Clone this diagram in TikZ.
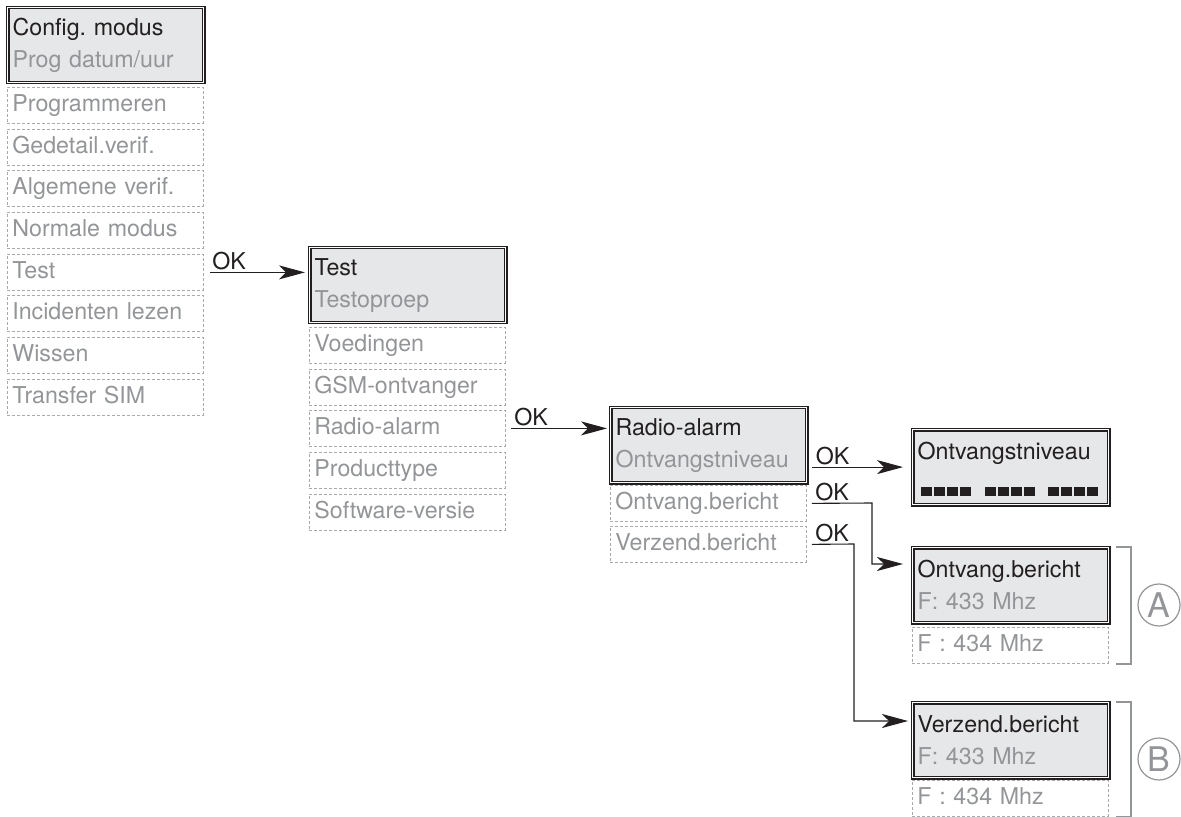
\documentclass[tikz,border=0pt]{standalone}
\usepackage{fontspec}
\setmainfont{TeX Gyre Heros}
\usetikzlibrary{arrows.meta}
\definecolor{lcdgray}{RGB}{230,231,232}
\definecolor{txtgray}{RGB}{147,149,152}
\definecolor{ink}{RGB}{35,31,32}
\frenchspacing

\begin{document}
\begin{tikzpicture}[x=0.5pt,y=-0.5pt,
    head/.style={anchor=north west,draw=ink,line width=0.6pt,double=white,double distance=0.7pt,fill=lcdgray,text=ink,minimum width=98pt,minimum height=37.5pt,text width=93pt,inner xsep=2.5pt,align=left,font=\fontsize{11.6}{16}\selectfont},
    item/.style={anchor=north west,draw=txtgray!80,line width=0.4pt,dash pattern=on 1.5pt off 1pt,text=txtgray,minimum width=98pt,minimum height=18pt,text width=93pt,inner xsep=2.5pt,text height=8.3pt,text depth=2.2pt,align=left,font=\fontsize{11.6}{16}\selectfont},
    arr/.style={draw=ink,line width=0.55pt,-{Stealth[length=13pt,width=7pt,inset=3.5pt]}},
    ok/.style={anchor=south west,inner sep=1pt,xshift=3pt,text=ink,font=\fontsize{11.6}{13}\selectfont},
    brk/.style={draw=txtgray,line width=1pt},
    circ/.style={circle,draw=txtgray,line width=0.6pt,text=txtgray,minimum size=21pt,inner sep=0pt,font=\fontsize{17}{20}\selectfont},
    bars/.style={draw=ink,line width=4.5pt,dash pattern=on 5.5pt off 1pt}]
    \useasboundingbox (0,0) rectangle (1181,817);

    % config menu
    \node[head] (C) at (7,7) {Config. modus\\\textcolor{txtgray}{Prog datum/uur}};
    \node[item] (C1) at (7,87) {Programmeren};
    \node[item] (C2) at (7,129) {Gedetail.verif.};
    \node[item] (C3) at (7,170) {Algemene verif.};
    \node[item] (C4) at (7,212) {Normale modus};
    \node[item] (C5) at (7,254) {Test};
    \node[item] (C6) at (7,295) {Incidenten lezen};
    \node[item] (C7) at (7,337) {Wissen};
    \node[item] (C8) at (7,379) {Transfer SIM};

    % test menu
    \node[head] (T) at (309,247) {Test\\\textcolor{txtgray}{Testoproep}};
    \node[item] (T1) at (309,327) {Voedingen};
    \node[item] (T2) at (309,369) {GSM-ontvanger};
    \node[item] (T3) at (309,410) {Radio-alarm};
    \node[item] (T4) at (309,452) {Producttype};
    \node[item] (T5) at (309,494) {Software-versie};

    % radio menu
    \node[head] (R) at (610,407) {Radio-alarm\\\textcolor{txtgray}{Ontvangstniveau}};
    \node[item] (R1) at (610,485) {Ontvang.bericht};
    \node[item] (R2) at (610,526) {Verzend.bericht};

    % screens
    \node[head] (N) at (912,429) {Ontvangstniveau\\\mbox{}};
    \node[head] (O) at (912,547) {Ontvang.bericht\\\textcolor{txtgray}{F: 433 Mhz}};
    \node[item] (O1) at (912,627) {F : 434 Mhz};
    \node[head] (V) at (912,702) {Verzend.bericht\\\textcolor{txtgray}{F: 433 Mhz}};
    \node[item] (V1) at (912,780) {F : 434 Mhz};

    \draw[bars] ([xshift=4.5pt,yshift=7pt]N.south west) -- ++(50,0);
    \draw[bars] ([xshift=36.5pt,yshift=7pt]N.south west) -- ++(50,0);
    \draw[bars] ([xshift=68pt,yshift=7pt]N.south west) -- ++(50,0);

    \coordinate (B1) at (872,503);
    \coordinate (B2) at (872,564);
    \coordinate (B3) at (854,544);
    \coordinate (B4) at (854,721);

    \draw[arr,shorten <=3pt,shorten >=2pt] (C5.east) -- node[ok,pos=0] {OK} (C5.east -| T.west);
    \draw[arr,shorten <=2.5pt,shorten >=1.5pt] (T3.east) -- node[ok,pos=0] {OK} (T3.east -| R.west);
    \draw[arr,shorten <=2.5pt,shorten >=4.5pt] (R.east |- N.west) -- node[ok,pos=0] {OK} (N.west);
    \draw[arr,shorten <=2.5pt,shorten >=4.5pt] (R1.east) -- node[ok,pos=0] {OK} (B1) -- (B2) -- (B2 -| O.west);
    \draw[arr,shorten <=2.5pt,shorten >=2pt] (R2.east) -- node[ok,pos=0] {OK} (B3) -- (B4) -- (B4 -| V.west);

    % groups
    \draw[brk] ([xshift=3.5pt]O.north east) -| ([xshift=11pt]O1.south east) -- ([xshift=3.5pt]O1.south east);
    \node[circ] (A) at (1159,605) {A};
    \draw[brk] ([xshift=3.5pt]V.north east) -| ([xshift=11pt]V1.south east) -- ([xshift=3.5pt]V1.south east);
    \node[circ] (B) at (1159,759) {B};
\end{tikzpicture}
\end{document}
